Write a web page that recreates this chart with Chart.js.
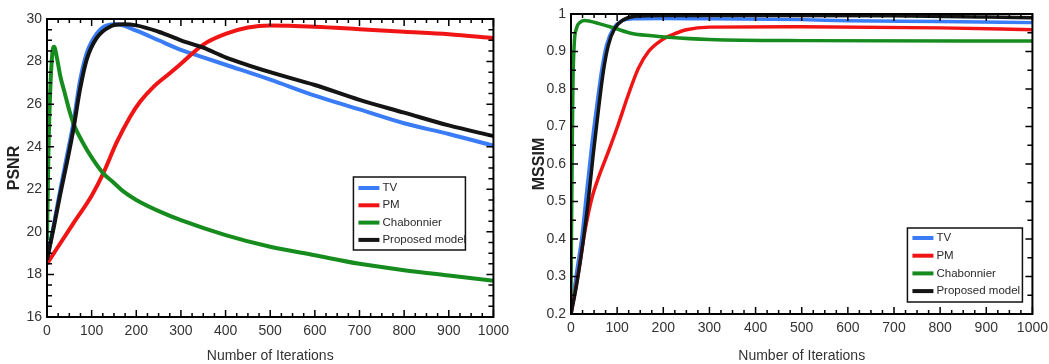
<!DOCTYPE html>
<html>
<head>
<meta charset="utf-8">
<script src="https://cdn.jsdelivr.net/npm/chart.js@4.4.1/dist/chart.umd.min.js"></script>
<style>
  body { margin: 0; background: #fff; width: 1049px; height: 364px; overflow: hidden; position: relative; }
  canvas { position: absolute; top: 0; }
</style>
</head>
<body>
<canvas id="psnr" width="515" height="364" style="left:0"></canvas>
<canvas id="mssim" width="529" height="364" style="left:525px"></canvas>
<script>
const seriesNames = ["TV", "PM", "Chabonnier", "Proposed model"];
const seriesColors = ["#3a7cf5", "#f01414", "#178c1e", "#141414"];

// PSNR vs iterations (left)
const psnrTvX = [0, 15, 30, 45, 59, 74, 89, 111, 134, 157, 200, 250, 300, 350, 400, 500, 600, 700, 800, 900, 1000];
const psnrTvY = [18.7, 20.3, 22.0, 23.6, 25.1, 27.1, 28.4, 29.3, 29.7, 29.75, 29.45, 29.0, 28.55, 28.2, 27.85, 27.15, 26.4, 25.75, 25.1, 24.6, 24.05];
const psnrPmX = [0, 59, 100, 126, 156, 186, 208, 238, 275, 300, 350, 400, 450, 500, 600, 700, 800, 900, 1000];
const psnrPmY = [18.5, 20.4, 21.7, 22.75, 24.2, 25.4, 26.1, 26.8, 27.45, 27.9, 28.8, 29.3, 29.6, 29.7, 29.64, 29.52, 29.4, 29.28, 29.1];
const psnrChX = [0, 3, 7, 12, 16, 22, 30, 40, 50, 59, 80, 100, 126, 150, 171, 200, 253, 300, 400, 500, 600, 700, 800, 900, 1000];
const psnrChY = [19.6, 23.5, 26.5, 28.4, 28.7, 28.2, 27.3, 26.5, 25.7, 25.1, 24.2, 23.5, 22.75, 22.3, 21.9, 21.5, 20.95, 20.55, 19.85, 19.3, 18.9, 18.5, 18.2, 17.95, 17.7];
const psnrPrX = [0, 15, 29, 45, 59, 74, 89, 111, 142, 171, 200, 250, 300, 350, 400, 500, 600, 700, 800, 900, 1000];
const psnrPrY = [18.7, 20.2, 21.7, 23.3, 24.8, 26.7, 28.1, 29.1, 29.65, 29.75, 29.7, 29.4, 29.0, 28.65, 28.2, 27.5, 26.9, 26.2, 25.6, 25.0, 24.5];

// MSSIM vs iterations (right)
const ssimTvX = [0, 12, 23, 34, 45, 56, 66, 77, 92, 110, 132, 200, 300, 500, 600, 800, 1000];
const ssimTvY = [0.2, 0.31, 0.40, 0.526, 0.65, 0.757, 0.846, 0.917, 0.962, 0.982, 0.987, 0.988, 0.987, 0.985, 0.982, 0.98, 0.977];
const ssimPmX = [0, 16, 30, 45, 59, 81, 102, 124, 146, 168, 197, 218, 250, 300, 500, 800, 1000];
const ssimPmY = [0.2, 0.31, 0.42, 0.508, 0.562, 0.633, 0.704, 0.784, 0.855, 0.90, 0.931, 0.944, 0.958, 0.965, 0.966, 0.963, 0.958];
const ssimChX = [0, 2, 4, 7, 12, 20, 30, 59, 95, 132, 175, 211, 300, 500, 1000];
const ssimChY = [0.25, 0.55, 0.8, 0.92, 0.962, 0.978, 0.983, 0.975, 0.962, 0.948, 0.942, 0.938, 0.932, 0.929, 0.928];
const ssimPrX = [0, 12, 27, 38, 48, 59, 70, 81, 95, 113, 139, 200, 400, 700, 900, 1000];
const ssimPrY = [0.2, 0.277, 0.40, 0.508, 0.624, 0.74, 0.846, 0.917, 0.962, 0.984, 0.994, 0.996, 0.996, 0.995, 0.992, 0.99];

const sans = "'Liberation Sans', Arial, sans-serif";
const pts = (xs, ys) => xs.map((x, i) => ({ x: x, y: ys[i] }));

function makeSets(list, width) {
  // proposed model drawn on top, like the original plot order
  return list.map((p, i) => ({
    label: seriesNames[i],
    data: pts(p[0], p[1]),
    borderColor: seriesColors[i],
    backgroundColor: seriesColors[i],
    borderWidth: width,
    pointRadius: 0,
    cubicInterpolationMode: "monotone",
    order: 3 - i
  }));
}

// MATLAB style box: inward ticks on all four sides, plus a boxed legend
const boxPlugin = {
  id: "box",
  afterDraw(chart, args, o) {
    const { ctx, chartArea: a, scales } = chart;
    const x = scales.x, y = scales.y;
    ctx.save();
    ctx.strokeStyle = "#000";
    ctx.lineWidth = 1.5;
    ctx.beginPath();
    let n = Math.round((x.max - x.min) / o.xMinor);
    for (let i = 0; i <= n; i++) {
      const px = x.getPixelForValue(x.min + i * o.xMinor);
      const len = i % o.xEvery === 0 ? 7 : 4;
      ctx.moveTo(px, a.bottom); ctx.lineTo(px, a.bottom - len);
      ctx.moveTo(px, a.top); ctx.lineTo(px, a.top + len);
    }
    n = Math.round((y.max - y.min) / o.yMinor);
    for (let i = 0; i <= n; i++) {
      const py = y.getPixelForValue(y.min + i * o.yMinor);
      const len = i % o.yEvery === 0 ? 7 : 5;
      ctx.moveTo(a.left, py); ctx.lineTo(a.left + len, py);
      ctx.moveTo(a.right, py); ctx.lineTo(a.right - len, py);
    }
    ctx.stroke();
    ctx.lineWidth = 2;
    ctx.strokeRect(a.left, a.top, a.width, a.height);

    const L = o.legend;
    const bx = a.right - L.right - L.w, by = a.bottom - L.bottom - L.h;
    ctx.fillStyle = "#fff";
    ctx.fillRect(bx, by, L.w, L.h);
    ctx.lineWidth = 1.5;
    ctx.strokeStyle = "#111";
    ctx.strokeRect(bx, by, L.w, L.h);
    ctx.font = "11.5px " + sans;
    ctx.textBaseline = "middle";
    chart.data.datasets.forEach((d, i) => {
      const ry = by + L.first + i * L.row;
      ctx.strokeStyle = d.borderColor;
      ctx.lineWidth = L.lw;
      ctx.beginPath();
      ctx.moveTo(bx + 5, ry); ctx.lineTo(bx + 26, ry);
      ctx.stroke();
      ctx.fillStyle = "#2a2a2a";
      ctx.fillText(d.label, bx + 29, ry);
    });
    ctx.restore();
  }
};

function makeChart(id, sets, yMin, yMax, yStep, yTitle, yw, xh, pad, box) {
  return new Chart(document.getElementById(id), {
    type: "line",
    data: { datasets: sets },
    plugins: [boxPlugin],
    options: {
      responsive: false,
      animation: false,
      layout: { padding: pad },
      plugins: { legend: { display: false }, tooltip: { enabled: false }, box: box },
      scales: {
        x: {
          type: "linear", min: 0, max: 1000,
          ticks: { stepSize: 100, color: "#333", padding: 6, maxRotation: 0, font: { family: sans, size: 14 },
                   callback: v => String(v) },
          grid: { display: false, drawTicks: false },
          border: { display: false },
          title: { display: true, text: "Number of Iterations", color: "#333", padding: { top: 0, bottom: 1 }, font: { family: sans, size: 14, lineHeight: 1 } },
          afterFit: s => { s.height = xh; }
        },
        y: {
          min: yMin, max: yMax,
          ticks: { stepSize: yStep, color: "#333", padding: 5, font: { family: sans, size: 14 },
                   callback: v => String(Number(v.toFixed(2))) },
          grid: { display: false, drawTicks: false },
          border: { display: false },
          title: { display: true, text: yTitle, color: "#222", padding: { top: 5, bottom: 0 }, font: { family: sans, size: 16, weight: "bold" } },
          afterFit: s => { s.width = yw; }
        }
      }
    }
  });
}

makeChart("psnr",
  makeSets([[psnrTvX, psnrTvY], [psnrPmX, psnrPmY], [psnrChX, psnrChY], [psnrPrX, psnrPrY]], 4),
  16, 30, 2, "PSNR", 47, 47, { top: 19, right: 12, left: 0, bottom: 0 },
  { xMinor: 25, xEvery: 4, yMinor: 0.5, yEvery: 4,
    legend: { right: 28, bottom: 67, w: 112, h: 73, first: 11, row: 17.3, lw: 4 } });

makeChart("mssim",
  makeSets([[ssimTvX, ssimTvY], [ssimPmX, ssimPmY], [ssimChX, ssimChY], [ssimPrX, ssimPrY]], 3.5),
  0.2, 1, 0.1, "MSSIM", 46, 50, { top: 14, right: 12, left: 0, bottom: 0 },
  { xMinor: 25, xEvery: 4, yMinor: 0.05, yEvery: 2,
    legend: { right: 10, bottom: 12, w: 115, h: 74, first: 10, row: 17.7, lw: 4 } });
</script>
</body>
</html>
